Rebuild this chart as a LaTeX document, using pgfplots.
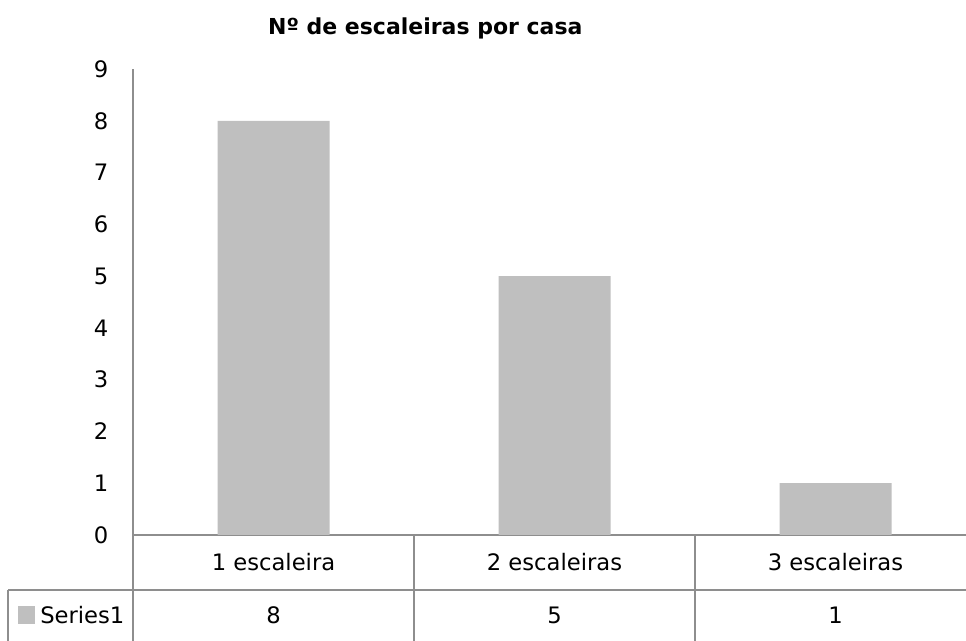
\documentclass[border=0pt]{standalone}
\usepackage{pgfplots}
\pgfplotsset{compat=1.18}
\usepackage{fontspec}
\setmainfont{DejaVu Sans}
\definecolor{barc}{HTML}{BFBFBF}
\definecolor{linec}{HTML}{8E8E8E}
\begin{document}
\begin{tikzpicture}
\useasboundingbox (0,0) rectangle (724.5pt,480.75pt);
\clip (0,0) rectangle (724.5pt,480.75pt);
\begin{axis}[
  at={(99.75pt,79.5pt)}, anchor=south west,
  scale only axis, width=632.25pt, height=349.5pt,
  xmin=-0.5, xmax=2.5, ymin=0, ymax=9,
  axis x line=bottom, axis y line=left,
  axis line style={-, draw=linec, line width=1.3pt},
  xtick={0,1,2}, xticklabels={1 escaleira,2 escaleiras,3 escaleiras},
  ytick={0,1,...,9},
  major tick length=0pt,
  /pgf/number format/assume math mode=true,
  tick label style={font=\fontsize{17}{20}\selectfont, text=black},
  xticklabel style={anchor=center, yshift=-20.5pt},
  yticklabel style={anchor=east, xshift=-15pt},
  clip=false,
]
\addplot[ybar, bar width=84pt, fill=barc, draw=none] coordinates {(0,8) (1,5) (2,1)};
\end{axis}
% data table lines
\draw[linec, line width=1.3pt] (6pt,38.25pt) -- (724.5pt,38.25pt);
\draw[linec, line width=1.3pt] (6pt,38.25pt) -- (6pt,0);
\draw[linec, line width=1.3pt] (99.75pt,79.5pt) -- (99.75pt,0);
\draw[linec, line width=1.3pt] (310.5pt,79.5pt) -- (310.5pt,0);
\draw[linec, line width=1.3pt] (521.25pt,79.5pt) -- (521.25pt,0);
% series row
\fill[barc] (13.5pt,13.1pt) rectangle (26.25pt,25.9pt);
\node[anchor=west, inner sep=0pt, font=\fontsize{17}{20}\selectfont] at (30pt,19.5pt) {Series1};
\node[font=\fontsize{17}{20}\selectfont] at (205.1pt,19.5pt) {8};
\node[font=\fontsize{17}{20}\selectfont] at (415.9pt,19.5pt) {5};
\node[font=\fontsize{17}{20}\selectfont] at (626.6pt,19.5pt) {1};
% title
\node[font=\bfseries\fontsize{16.5}{20}\selectfont] at (319pt,459.75pt) {Nº de escaleiras por casa};
\end{tikzpicture}
\end{document}
